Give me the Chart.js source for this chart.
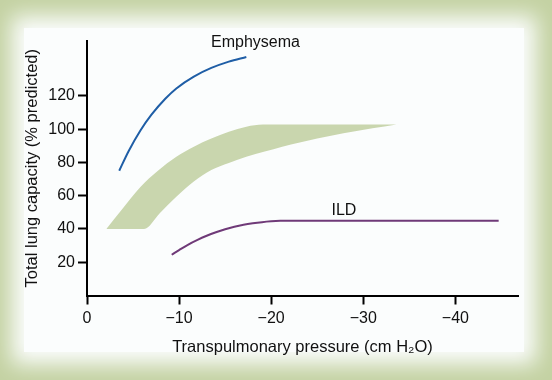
<!DOCTYPE html>
<html>
<head>
<meta charset="utf-8">
<script src="https://cdn.jsdelivr.net/npm/chart.js@4"></script>
<style>
  html, body { margin: 0; padding: 0; }
  body { width: 552px; height: 380px; background: #c4d2a3; position: relative; overflow: hidden; }
  #panel { position: absolute; left: 24px; top: 28px; width: 500px; height: 324px; background: #fbfdfd; box-shadow: 0 0 20px 12px #fbfdfd; }
  #wrap { position: absolute; left: 0; top: 0; width: 552px; height: 380px; }
</style>
</head>
<body>
<div id="panel"></div>
<div id="wrap"><canvas id="chart" width="552" height="380"></canvas></div>
<script>
// values (x in cm H2O, y in % predicted)
const xTicks = [0, -10, -20, -30, -40];
const yTicks = [20, 40, 60, 80, 100, 120];

const emphysemaX = [-3.5, -4.5, -5.8, -7.0, -8.5, -9.7, -11.6, -13.5, -15.4, -17.3];
const emphysemaY = [75, 86.6, 99.2, 108.7, 118.3, 124.5, 131.6, 136.8, 140.6, 143.4];

const ildX = [-9.2, -10, -11, -12, -13, -14, -15, -16, -17, -18, -19, -20, -21, -22, -44.7];
const ildY = [24.5, 27.3, 30.6, 33.4, 35.9, 38, 39.8, 41.3, 42.5, 43.4, 44.1, 44.6, 44.9, 45, 45];

// normal range band: upper and lower edges (lower one starts with the flat bottom)
const bandTopX = [-2.1, -3.9, -5.8, -7.7, -9.7, -11.6, -13.5, -15.4, -17.3, -19.1, -33.6];
const bandTopY = [40, 52.5, 65.3, 75, 83.4, 89.5, 94.4, 98.5, 101.5, 102.8, 102.8];
const bandLowX = [-2.1, -6.2, -7.9, -9.7, -11.6, -13.5, -15.4, -17.3, -19.3, -21.2, -23.1, -25, -26.9, -28.8, -31, -33.6];
const bandLowY = [40, 40, 49.5, 59.3, 68.5, 75.4, 79.7, 83.4, 86.5, 89.4, 92, 94.4, 96.5, 98.4, 100.5, 102.8];

const curveLabels = [
  { text: "Emphysema", x: -18.3, y: 152 },
  { text: "ILD", x: -27.9, y: 51 }
];

const pts = (xs, ys) => xs.map((x, i) => ({ x: x, y: ys[i] }));

// little helper plugin for the in-plot curve names
const labelPlugin = {
  id: "curveNames",
  afterDatasetsDraw(chart) {
    const { ctx, scales } = chart;
    ctx.save();
    ctx.fillStyle = "#111";
    ctx.font = "16px 'Liberation Sans', Arial, sans-serif";
    ctx.textAlign = "center";
    ctx.textBaseline = "middle";
    curveLabels.forEach(l => {
      ctx.fillText(l.text, scales.x.getPixelForValue(l.x), scales.y.getPixelForValue(l.y));
    });
    ctx.restore();
  }
};

const fmt = v => (v < 0 ? "\u2212" + Math.abs(v) : String(v));
const tickFont = { family: "'Liberation Sans', Arial, sans-serif", size: 16 };
const titleFont = { family: "'Liberation Sans', Arial, sans-serif", size: 16.5 };
const axisGrid = { display: true, drawOnChartArea: false, drawTicks: true, tickLength: 9, tickWidth: 2, tickColor: "#000" };
const bandGreen = "#c9d6ae";

new Chart(document.getElementById("chart"), {
  type: "scatter",
  data: {
    datasets: [
      {
        data: pts(bandTopX, bandTopY),
        showLine: true,
        fill: "+1",
        backgroundColor: bandGreen,
        borderColor: bandGreen,
        borderWidth: 0,
        pointRadius: 0,
        cubicInterpolationMode: "monotone"
      },
      {
        data: pts(bandLowX, bandLowY),
        showLine: true,
        fill: false,
        borderColor: bandGreen,
        borderWidth: 0,
        pointRadius: 0,
        cubicInterpolationMode: "monotone"
      },
      {
        data: pts(emphysemaX, emphysemaY),
        showLine: true,
        borderColor: "#1f5ea6",
        borderWidth: 2,
        pointRadius: 0,
        cubicInterpolationMode: "monotone"
      },
      {
        data: pts(ildX, ildY),
        showLine: true,
        borderColor: "#6f3a78",
        borderWidth: 2,
        pointRadius: 0,
        cubicInterpolationMode: "monotone"
      }
    ]
  },
  options: {
    responsive: false,
    animation: false,
    events: [],
    layout: { padding: { top: 41, right: 34, left: 0, bottom: 0 } },
    plugins: { legend: { display: false }, tooltip: { enabled: false }, filler: { propagate: false } },
    scales: {
      x: {
        type: "linear",
        reverse: true,
        min: -46.8,
        max: 0,
        afterBuildTicks: s => { s.ticks = xTicks.map(v => ({ value: v })); },
        afterFit: s => { s.height = 84.5; },
        grid: axisGrid,
        border: { color: "#000", width: 2 },
        ticks: { color: "#111", font: tickFont, padding: 4, maxRotation: 0, callback: v => fmt(v) },
        title: { display: true, text: "Transpulmonary pressure (cm H\u2082O)", color: "#111", font: titleFont, padding: { top: 0, bottom: 23 } }
      },
      y: {
        min: 0,
        max: 153,
        afterBuildTicks: s => { s.ticks = yTicks.map(v => ({ value: v })); },
        afterFit: s => { s.width = 87; },
        grid: axisGrid,
        border: { color: "#000", width: 2 },
        ticks: { color: "#111", font: tickFont, padding: 3, callback: v => fmt(v) },
        title: { display: true, text: "Total lung capacity (% predicted)", color: "#111", font: titleFont, padding: { top: 23, bottom: 0 } }
      }
    }
  },
  plugins: [labelPlugin]
});
</script>
</body>
</html>
